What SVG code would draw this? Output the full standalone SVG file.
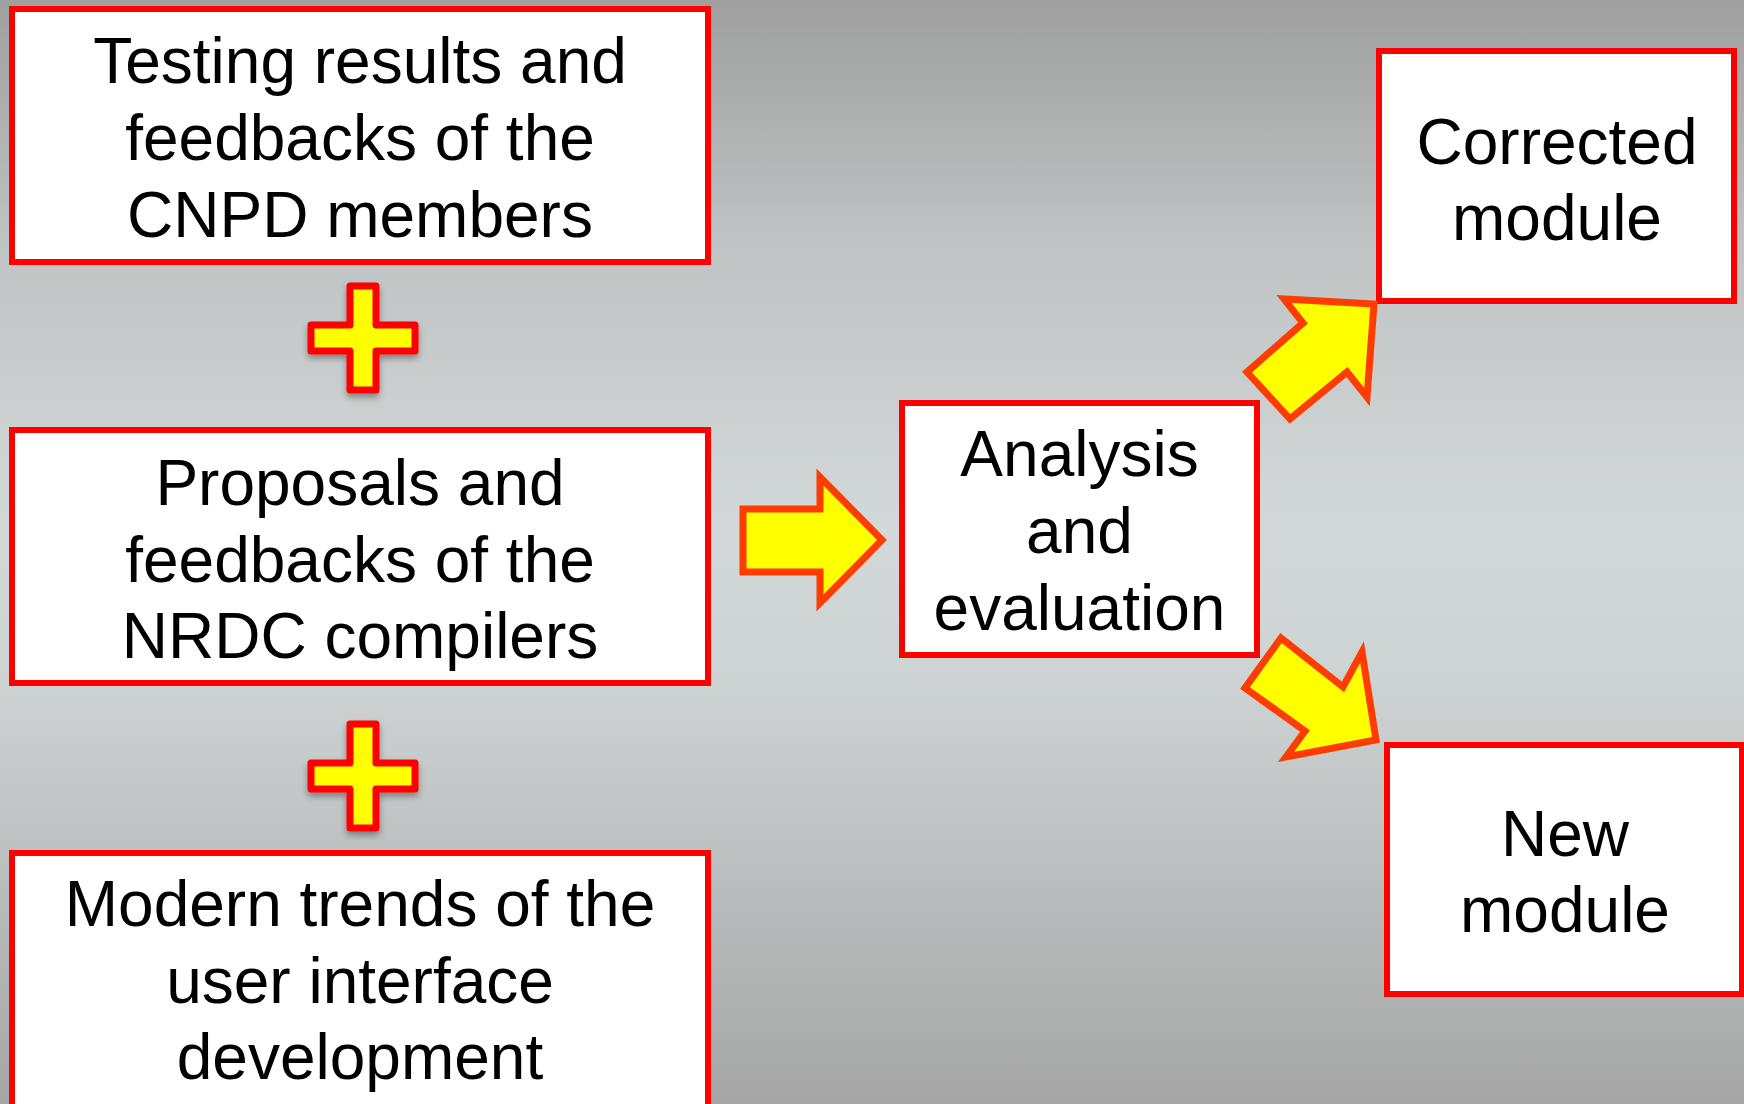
<svg xmlns="http://www.w3.org/2000/svg" width="1744" height="1104" viewBox="0 0 1744 1104">
<defs>
<linearGradient id="bg" x1="0" y1="0" x2="0" y2="1">
<stop offset="0" stop-color="#9f9f9f"/>
<stop offset="0.22" stop-color="#bfc3c3"/>
<stop offset="0.48" stop-color="#d3d8d8"/>
<stop offset="0.62" stop-color="#cdd2d2"/>
<stop offset="0.82" stop-color="#b8bbbb"/>
<stop offset="1" stop-color="#a6a6a6"/>
</linearGradient>
<filter id="sh" x="-30%" y="-30%" width="160%" height="160%">
<feDropShadow dx="0" dy="4" stdDeviation="3" flood-color="#000" flood-opacity="0.35"/>
</filter>
</defs>
<style>
.box{fill:#fff;stroke:#ff0000;stroke-width:6}
.plus{fill:#ffff00;stroke:#ff0000;stroke-width:7;stroke-linejoin:round}
.arr{fill:#ffff00;stroke:#ff3c00;stroke-width:7;stroke-linejoin:miter}
.t{font-family:"Liberation Sans",Arial,sans-serif;font-size:64px;fill:#000;text-anchor:middle}
</style>
<rect x="0" y="0" width="1744" height="1104" fill="url(#bg)"/>

<g id="node-testing">
<rect class="box" x="12" y="9" width="696" height="253"/>
<text class="t" x="360" y="83">Testing results and</text>
<text class="t" x="360" y="160">feedbacks of the</text>
<text class="t" x="360" y="237">CNPD members</text>
</g>
<g id="node-proposals">
<rect class="box" x="12" y="430" width="696" height="253"/>
<text class="t" x="360" y="505">Proposals and</text>
<text class="t" x="360" y="582">feedbacks of the</text>
<text class="t" x="360" y="658">NRDC compilers</text>
</g>
<g id="node-modern">
<rect class="box" x="12" y="853" width="696" height="260"/>
<text class="t" x="360" y="926">Modern trends of the</text>
<text class="t" x="360" y="1003">user interface</text>
<text class="t" x="360" y="1079">development</text>
</g>
<g id="node-analysis">
<rect class="box" x="902" y="403" width="355" height="252"/>
<text class="t" x="1079.5" y="476">Analysis</text>
<text class="t" x="1079.5" y="553">and</text>
<text class="t" x="1079.5" y="630">evaluation</text>
</g>
<g id="node-corrected">
<rect class="box" x="1379" y="51" width="355" height="250"/>
<text class="t" x="1557" y="164">Corrected</text>
<text class="t" x="1557" y="240">module</text>
</g>
<g id="node-new">
<rect class="box" x="1387" y="745" width="355" height="249"/>
<text class="t" x="1565" y="856">New</text>
<text class="t" x="1565" y="932">module</text>
</g>

<g id="plus1" filter="url(#sh)">
<path class="plus" d="M350,286 H376 V325 H415 V351 H376 V390 H350 V351 H311 V325 H350 Z"/>
</g>
<g id="plus2" filter="url(#sh)">
<path class="plus" d="M350,724 H376 V763 H415 V789 H376 V828 H350 V789 H311 V763 H350 Z"/>
</g>

<g id="connectors">
<polygon class="arr" points="743,509 820,509 820,477 882,540 820,603 820,572 743,572"/>
<polygon class="arr" points="1290,419 1247,372 1303,323 1284,299 1374,304 1367,397 1347,372"/>
<polygon class="arr" points="1281,638 1245,688 1305,731 1286,757 1376,740 1362,652 1343,687"/>
</g>
</svg>
